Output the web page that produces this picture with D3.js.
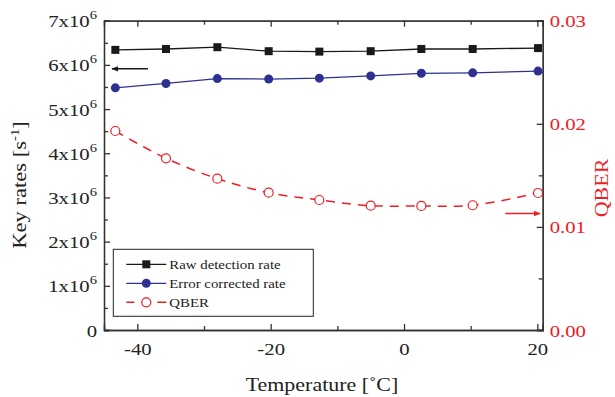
<!DOCTYPE html>
<html>
<head>
<meta charset="utf-8">
<script src="https://cdn.jsdelivr.net/npm/d3@7"></script>
<style>
  body { margin: 0; background: #fff; }
  svg text { font-family: "Liberation Serif", "DejaVu Serif", serif; }
  .axis path, .axis line { stroke: #333; stroke-width: 1.3; }
</style>
</head>
<body>
<script>
const temps = [-43.3, -35.7, -28, -20.3, -12.7, -5, 2.6, 10.3, 20.1];
const rawRate = [6.34, 6.36, 6.40, 6.31, 6.30, 6.31, 6.36, 6.36, 6.38]; // x10^6
const correctedRate = [5.48, 5.58, 5.69, 5.68, 5.70, 5.75, 5.81, 5.82, 5.86]; // x10^6
const qber = [0.0193, 0.01665, 0.01468, 0.01332, 0.01261, 0.01206, 0.01203, 0.0121, 0.01329];
const rateTicks = [0, 1, 2, 3, 4, 5, 6, 7];
const qberTicks = [0, 0.01, 0.02, 0.03];
const tempTicks = [-40, -20, 0, 20];
const legendLabels = ['Raw detection rate', 'Error corrected rate', 'QBER'];

const W = 615, H = 397;
const pLeft = 104, pRight = 542.7, pTop = 20.7, pBottom = 330;
const black = '#1a1a1a', blue = '#2e3192', red = '#ee1c25';
const stretch = 1.22;

const x = d3.scaleLinear().domain([-45, 20.8]).range([pLeft, pRight]);
const y = d3.scaleLinear().domain([0, 7]).range([pBottom, pTop]);
const yQ = d3.scaleLinear().domain([0, 0.03]).range([pBottom, pTop]);

const svg = d3.select('body').append('svg')
  .attr('width', W).attr('height', H);

// minor ticks first
const minorLen = 4, majorLen = 6;
function minor(axis, vals) {
  return axis.tickValues(vals).tickSize(-minorLen).tickFormat('');
}
svg.append('g').attr('class', 'axis').attr('transform', `translate(${pLeft},0)`)
  .call(minor(d3.axisLeft(y), d3.range(0.5, 7, 1)));
svg.append('g').attr('class', 'axis').attr('transform', `translate(0,${pBottom})`)
  .call(minor(d3.axisBottom(x), [-30, -10, 10]));
svg.append('g').attr('class', 'axis').attr('transform', `translate(0,${pTop})`)
  .call(minor(d3.axisTop(x), [-30, -10, 10]));
svg.append('g').attr('class', 'axis').attr('transform', `translate(${pRight},0)`)
  .call(minor(d3.axisRight(yQ), [0.005, 0.015, 0.025]));

// major axes
const gLeft = svg.append('g').attr('class', 'axis').attr('transform', `translate(${pLeft},0)`)
  .call(d3.axisLeft(y).tickValues(rateTicks).tickSize(-majorLen).tickPadding(0).tickFormat(''));
gLeft.selectAll('.tick text').remove();
gLeft.selectAll('.tick').append('text')
  .attr('text-anchor', 'end')
  .attr('transform', `translate(-7,6) scale(${stretch},1)`)
  .attr('fill', '#222')
  .style('font-size', '17px')
  .each(function(d) {
    const t = d3.select(this);
    if (d === 0) { t.text('0'); return; }
    t.append('tspan').text(`${d}x10`);
    t.append('tspan').attr('dy', -8).style('font-size', '12px').text('6');
  });

const gBottom = svg.append('g').attr('class', 'axis').attr('transform', `translate(0,${pBottom})`)
  .call(d3.axisBottom(x).tickValues(tempTicks).tickSize(-majorLen).tickFormat(''));
gBottom.selectAll('.tick').append('text')
  .attr('text-anchor', 'middle')
  .attr('transform', `translate(0,25) scale(${stretch},1)`)
  .attr('fill', '#222')
  .style('font-size', '17px')
  .text(d => d);

svg.append('g').attr('class', 'axis').attr('transform', `translate(0,${pTop})`)
  .call(d3.axisTop(x).tickValues(tempTicks).tickSize(-majorLen).tickFormat(''));

const gRight = svg.append('g').attr('class', 'axis').attr('transform', `translate(${pRight},0)`)
  .call(d3.axisRight(yQ).tickValues(qberTicks).tickSize(-majorLen).tickFormat(''));
gRight.selectAll('.tick').append('text')
  .attr('text-anchor', 'start')
  .attr('transform', `translate(7,6) scale(${stretch},1)`)
  .attr('fill', red)
  .style('font-size', '17px')
  .text(d => d3.format('.2f')(d));

// frame lines
svg.selectAll('.axis .domain').attr('fill', 'none');

// axis titles
svg.append('text')
  .attr('transform', `translate(26,185) rotate(-90) scale(${stretch},1)`)
  .attr('text-anchor', 'middle')
  .attr('fill', '#222')
  .style('font-size', '18.5px')
  .call(t => {
    t.append('tspan').text('Key rates [s');
    t.append('tspan').attr('dy', -7).style('font-size', '12px').text('-1');
    t.append('tspan').attr('dy', 7).text(']');
  });

svg.append('text')
  .attr('transform', `translate(322,391) scale(${stretch},1)`)
  .attr('text-anchor', 'middle')
  .attr('fill', '#222')
  .style('font-size', '18px')
  .text('Temperature [˚C]');

svg.append('text')
  .attr('transform', `translate(608,188) rotate(-90) scale(${stretch},1)`)
  .attr('text-anchor', 'middle')
  .attr('fill', red)
  .style('font-size', '18px')
  .text('QBER');

// data
const rawData = temps.map((t, i) => [t, rawRate[i]]);
const corrData = temps.map((t, i) => [t, correctedRate[i]]);
const qData = temps.map((t, i) => [t, qber[i]]);

const lineR = d3.line().x(d => x(d[0])).y(d => y(d[1]));
const lineQ = d3.line().x(d => x(d[0])).y(d => yQ(d[1])).curve(d3.curveCatmullRom);

svg.append('path').attr('d', lineQ(qData))
  .attr('fill', 'none').attr('stroke', red).attr('stroke-width', 1.5)
  .attr('stroke-dasharray', '9,7');
svg.append('path').attr('d', lineR(rawData))
  .attr('fill', 'none').attr('stroke', black).attr('stroke-width', 1.3);
svg.append('path').attr('d', lineR(corrData))
  .attr('fill', 'none').attr('stroke', blue).attr('stroke-width', 1.3);

svg.selectAll('rect.raw').data(rawData).enter().append('rect')
  .attr('class', 'raw')
  .attr('x', d => x(d[0]) - 4).attr('y', d => y(d[1]) - 4)
  .attr('width', 8).attr('height', 8).attr('fill', black);
svg.selectAll('circle.corr').data(corrData).enter().append('circle')
  .attr('class', 'corr')
  .attr('cx', d => x(d[0])).attr('cy', d => y(d[1])).attr('r', 4.5).attr('fill', blue);
svg.selectAll('circle.q').data(qData).enter().append('circle')
  .attr('class', 'q')
  .attr('cx', d => x(d[0])).attr('cy', d => yQ(d[1])).attr('r', 4.5)
  .attr('fill', '#fff').attr('stroke', red).attr('stroke-width', 1.2);

// arrows
svg.append('defs').call(defs => {
  [['ahBlack', black], ['ahRed', red]].forEach(([id, c]) => {
    defs.append('marker').attr('id', id)
      .attr('viewBox', '0 0 10 10').attr('refX', 9).attr('refY', 5)
      .attr('markerWidth', 7).attr('markerHeight', 7).attr('orient', 'auto-start-reverse')
      .attr('markerUnits', 'userSpaceOnUse')
      .append('path').attr('d', 'M0,1L10,5L0,9Z').attr('fill', c);
  });
});
svg.append('line')
  .attr('x1', x(-38.4)).attr('x2', x(-43.8)).attr('y1', y(5.91)).attr('y2', y(5.91))
  .attr('stroke', black).attr('stroke-width', 1.5).attr('marker-end', 'url(#ahBlack)');
svg.append('line')
  .attr('x1', x(15.2)).attr('x2', x(20.4)).attr('y1', yQ(0.0113)).attr('y2', yQ(0.0113))
  .attr('stroke', red).attr('stroke-width', 1.5).attr('marker-end', 'url(#ahRed)');

// legend
const legend = svg.append('g').attr('transform', 'translate(113.3,249.3)');
legend.append('rect').attr('width', 200).attr('height', 67)
  .attr('fill', '#fff').attr('stroke', '#222').attr('stroke-width', 1);
const colors = [black, blue, red];
legendLabels.forEach((lab, i) => {
  const g = legend.append('g').attr('transform', `translate(0,${15 + i * 19})`);
  g.append('line').attr('x1', 13).attr('x2', 53)
    .attr('stroke', colors[i]).attr('stroke-width', i === 2 ? 1.5 : 1.3)
    .attr('stroke-dasharray', i === 2 ? '9,7' : null)
    .attr('stroke-dashoffset', i === 2 ? 1 : null);
  if (i === 0) {
    g.append('rect').attr('x', 29).attr('y', -4).attr('width', 8).attr('height', 8).attr('fill', black);
  } else if (i === 1) {
    g.append('circle').attr('cx', 33).attr('r', 4.5).attr('fill', blue);
  } else {
    g.append('circle').attr('cx', 33).attr('r', 4.5).attr('fill', '#fff').attr('stroke', red).attr('stroke-width', 1.2);
  }
  g.append('text').attr('transform', 'translate(56,4.5) scale(1.1,1)')
    .attr('fill', '#222').style('font-size', '13.5px').text(lab);
});
</script>
</body>
</html>
